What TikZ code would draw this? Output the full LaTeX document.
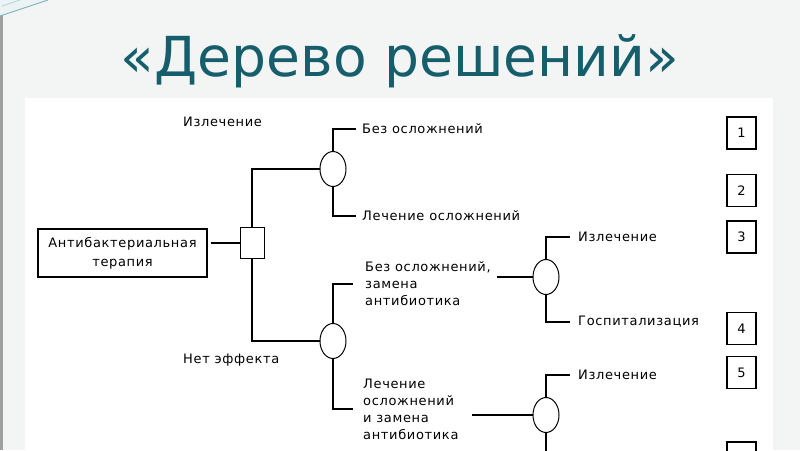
\documentclass[tikz,border=0pt]{standalone}
\usepackage{fontspec}
\usepackage{graphicx}
\setmainfont{DejaVu Sans}
\newfontfamily\titlefont{DejaVu Sans}
\newfontfamily\diagfont[LetterSpace=5]{DejaVu Sans}
\usetikzlibrary{shapes.geometric}
\definecolor{titleteal}{RGB}{22,94,108}
\definecolor{slidebg}{RGB}{243,245,245}
\definecolor{decoteal}{RGB}{120,175,185}
\begin{document}
\begin{tikzpicture}[x=1pt,y=-1pt,
  lbl/.style={font=\diagfont\fontsize{13}{17}\selectfont, anchor=west, inner sep=0pt, align=left},
  mainln/.style={line width=2.4pt},
  branchln/.style={line width=1.2pt},
  chance/.style={ellipse, draw, line width=1pt, minimum width=26pt, minimum height=35pt, inner sep=0pt},
  decision/.style={rectangle, draw, line width=1pt, minimum width=24pt, minimum height=31pt, inner sep=0pt},
  numbox/.style={rectangle, draw, line width=1.3pt, minimum width=29pt, minimum height=32pt, inner sep=0pt,
    font=\diagfont\fontsize{13}{14}\selectfont},
  mainbox/.style={rectangle, draw, line width=1.4pt, minimum width=169pt, minimum height=48pt, align=center,
    font=\diagfont\fontsize{13}{19}\selectfont}]
\clip (0,0) rectangle (800,450);
% background
\fill[slidebg] (0,0) rectangle (800,450);
\fill[white] (25,98) rectangle (773,450);
\fill[gray!75] (0,0) rectangle (2.5,450);
\fill[decoteal!15] (0,0) -- (48,0) -- (0,16) -- cycle;
\draw[decoteal, line width=0.8pt] (0,16) -- (48,0);
\draw[decoteal!70, line width=0.6pt] (2,6) -- (20,0);
% title
\node[font=\titlefont\fontsize{55}{60}\selectfont, text=titleteal, anchor=base, inner sep=0pt] (title) at (400,76)
  {\resizebox{558pt}{!}{«Дерево решений»}};
% nodes
\node[mainbox] (ab) at (122.5,253) {Антибактериальная\\терапия};
\node[decision] (dec) at (252,243) {};
\node[chance] (c1) at (333,169) {};
\node[chance] (c2) at (333,341) {};
\node[chance] (c4) at (546,277) {};
\node[chance] (c3) at (546,415) {};
% labels
\node[lbl] (cure0) at (183,122) {Излечение};
\node[lbl] (noeff) at (183,360) {Нет эффекта};
\node[lbl] (lb1) at (362,129) {Без осложнений};
\node[lbl] (lb2) at (362,216) {Лечение осложнений};
\node[lbl] (lb3) at (365,284) {Без осложнений,\\замена\\антибиотика};
\node[lbl] (lb4) at (363,409) {Лечение\\осложнений\\и замена\\антибиотика};
\node[lbl] (lb5) at (578,237) {Излечение};
\node[lbl] (lb6) at (578,322) {Госпитализация};
\node[lbl] (lb7) at (578,375) {Излечение};
% outcome boxes
\node[numbox] (n1) at (741.5,133) {1};
\node[numbox] (n2) at (741.5,190.5) {2};
\node[numbox] (n3) at (741.5,237) {3};
\node[numbox] (n4) at (741.5,328.5) {4};
\node[numbox] (n5) at (741.5,372.5) {5};
\node[numbox] (n6) at (741.5,458) {};
\coordinate (c3end) at (546,455);
% connectors
\draw[branchln] ([xshift=3pt]ab.east |- dec.west) -- (dec.west);
\draw[mainln] (dec.north) -- (dec.north |- c1.west) -- (c1.west);
\draw[mainln] (dec.south) -- (dec.south |- c2.west) -- (c2.west);
\draw[branchln] (c1.north) |- ([xshift=-6pt]lb1.west);
\draw[branchln] (c1.south) |- ([xshift=-6pt]lb2.west);
\draw[mainln] (c2.north) |- ([xshift=-12pt]lb3.west);
\draw[mainln] (c2.south) |- ([xshift=-10pt]lb4.west);
\draw[branchln] ([xshift=6pt]lb3.east |- c4.west) -- (c4.west);
\draw[mainln] ([xshift=13pt]lb4.east |- c3.west) -- (c3.west);
\draw[branchln] (c4.north) |- ([xshift=-8pt]lb5.west);
\draw[branchln] (c4.south) |- ([xshift=-8pt]lb6.west);
\draw[branchln] (c3.north) |- ([xshift=-8pt]lb7.west);
\draw[mainln] (c3.south) -- (c3end);
\end{tikzpicture}
\end{document}
